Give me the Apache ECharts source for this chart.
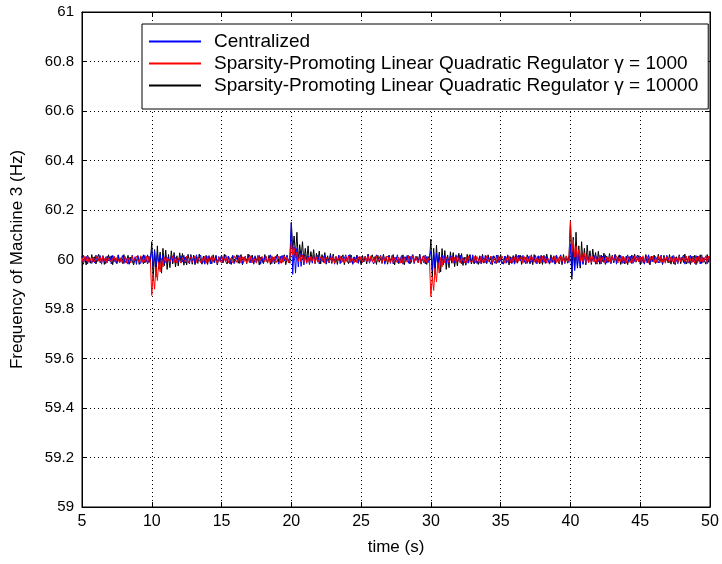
<!DOCTYPE html>
<html lang="en">
<head>
    <meta charset="UTF-8">
    <title>Frequency of Machine 3</title>
    <script src="https://cdn.jsdelivr.net/npm/echarts@6.0.0/dist/echarts.min.js"></script>
</head>
<body style="margin: 0;">
    <div id="chart" style="width: 722px; height: 564px;"></div>
    <script>
        // sampling grid of the traces (s)
        var tStart = 5, tStep = 0.1;
        var xTicks = [5, 10, 15, 20, 25, 30, 35, 40, 45, 50];
        var yTicks = [59, 59.2, 59.4, 59.6, 59.8, 60, 60.2, 60.4, 60.6, 60.8, 61];
        var names = ['Centralized',
            'Sparsity-Promoting Linear Quadratic Regulator \u03b3 = 1000',
            'Sparsity-Promoting Linear Quadratic Regulator \u03b3 = 10000'];

        // deviation from 60 Hz in mHz, one value every 0.1 s (one row = one second)
        var centralizedDev = [
            -11,17,-4,13,-18,9,15,-16,6,-13,
            18,-8,-14,16,-19,11,2,-17,14,-6,
            12,-18,17,-9,5,-15,19,-12,-3,16,
            -17,10,14,-19,8,-6,18,-14,11,-20,
            15,-5,-16,12,-18,17,-10,19,-13,7,
            42,-30,35,-25,28,-22,20,-20,18,-18,
            16,-13,9,-19,14,-7,18,-16,4,-11,
            -19,15,-10,17,-14,6,12,-18,16,-8,
            13,-17,19,-5,-12,18,-15,10,-19,14,
            -6,16,-18,11,8,-14,17,-20,12,-9,
            18,-11,-15,19,-7,13,-18,5,16,-17,
            -13,8,17,-16,12,-19,10,14,-9,-15,
            19,-14,6,-18,15,-10,-4,17,-19,11,
            -16,12,18,-8,-13,19,-17,9,-5,14,
            10,-19,13,-15,17,-6,-11,18,-14,16,
            148,-60,50,-55,45,-30,35,-28,20,-22,
            18,-16,14,-17,12,-15,16,-9,-13,17,
            -18,7,15,-12,19,-16,4,-14,18,-10,
            14,-19,11,-6,16,-17,13,-9,-15,19,
            -8,17,-13,18,-19,9,-4,15,-16,12,
            16,-12,-17,14,-9,19,-15,7,12,-18,
            -15,19,-6,-13,17,-11,18,-19,10,5,
            13,-16,15,-18,8,-4,19,-14,-10,16,
            -19,11,-7,17,-15,14,-12,18,-17,9,
            17,-14,19,-10,-6,16,-18,12,-13,15,
            35,-45,30,-32,25,-24,20,-20,18,-17,
            15,-16,12,-18,16,-9,13,-14,19,-11,
            -12,18,-17,8,14,-19,6,-15,17,-10,
            19,-13,10,-16,-7,15,-18,13,-11,17,
            -14,9,17,-19,12,-5,-16,18,-13,11,
            16,-18,-8,14,-15,19,-10,6,-17,13,
            -19,15,-12,18,-6,-14,17,-11,9,-16,
            12,-17,19,-9,-13,16,-18,14,-5,18,
            -10,14,-16,11,17,-19,8,-12,15,-18,
            18,-7,-15,19,-14,10,-17,13,16,-12,
            60,-65,40,-45,30,-35,25,-25,20,-20,
            17,-17,15,-13,18,-11,-14,16,-19,12,
            -9,16,-18,14,-12,19,-15,7,11,-17,
            15,-13,18,-19,9,-6,17,-16,12,-14,
            -18,19,-11,13,-17,15,-8,-12,18,-10,
            14,-16,10,-19,17,-13,19,-15,5,-9,
            -17,12,16,-14,-6,18,-19,11,-12,17,
            19,-10,-14,15,-18,9,13,-17,16,-8,
            -13,18,-19,12,-5,-15,17,-11,14,-16,
            16,-9,13,-18,19,-12,-7,15,-17,10,
            -12
        ];
        var splqr1000Dev = [
            8,-14,12,-6,15,-11,3,-13,10,-9,
            -12,15,-7,9,-15,13,-4,11,-14,6,
            14,-10,-5,13,-12,8,15,-13,7,-11,
            -9,12,-15,6,11,-14,13,-8,-3,14,
            10,-13,15,-12,5,-9,14,-15,12,-6,
            -145,-60,-120,-30,-85,-10,-50,5,-30,10,
            -13,9,14,-11,-6,15,-12,10,-14,7,
            13,-15,6,12,-10,14,-13,-4,11,-12,
            -7,14,-12,9,15,-13,5,-11,13,-15,
            12,-8,-14,15,-11,7,13,-15,9,-5,
            -15,11,14,-9,12,-14,6,10,-13,15,
            9,-12,-6,15,-14,11,-10,13,-15,8,
            -11,15,-13,7,10,-15,14,-8,-4,12,
            14,-9,13,-15,6,-12,15,-10,11,-13,
            -6,13,-15,11,-12,14,-7,9,-14,10,
            68,20,45,5,30,-8,22,-10,18,-12,
            15,-13,9,-14,12,-6,14,-15,10,-11,
            -14,11,-5,13,-15,9,12,-12,7,-10,
            13,-15,14,-8,-11,15,-13,6,-14,12,
            -9,14,-12,10,15,-14,8,-13,11,-6,
            12,-11,-15,13,-7,14,-12,15,-10,9,
            -13,15,-8,-10,14,-15,11,-6,13,-14,
            10,-12,15,-13,7,12,-14,9,-15,11,
            -15,8,13,-11,14,-9,-6,15,-12,13,
            11,-14,9,-15,12,-10,14,-13,6,-8,
            -150,-70,-125,-35,-90,-12,-55,8,-30,12,
            -14,11,13,-12,-5,14,-15,9,-11,15,
            12,-15,7,11,-13,10,-14,15,-8,-6,
            -10,13,-14,12,9,-15,14,-11,5,-13,
            15,-9,-12,14,-15,8,11,-13,12,-7,
            -13,14,10,-15,6,-11,15,-14,9,-12,
            11,-13,15,-7,-10,13,-15,12,-14,10,
            -8,15,-11,9,14,-15,7,-12,13,-14,
            14,-10,12,-15,5,13,-13,8,-11,15,
            -12,9,-15,14,-8,11,-14,15,-10,6,
            155,30,80,10,55,-5,40,-8,32,-10,
            26,-12,20,-13,16,-14,12,-10,14,-15,
            -11,13,-14,9,12,-15,10,-7,15,-13,
            13,-6,-12,15,-14,10,-9,14,-15,8,
            -15,12,11,-13,7,-14,15,-10,13,-9,
            10,-14,15,-11,-6,13,-15,12,-8,14,
            -12,7,-13,15,-10,14,-11,9,-15,11,
            15,-13,10,-8,13,-15,6,-12,14,-10,
            -14,11,-9,14,-15,12,8,-13,11,-15,
            9,-15,13,-10,15,-11,-7,14,-12,13,
            -10
        ];
        var splqr10000Dev = [
            14,-19,8,-22,17,3,-15,20,-9,11,
            -18,6,21,-13,-4,16,-20,9,-11,19,
            -7,15,-21,12,2,-17,18,-10,7,-16,
            20,-12,-3,17,-19,10,14,-22,5,-8,
            16,-20,11,-6,19,-14,4,-18,13,-9,
            72,-85,40,-70,55,-40,30,-55,45,-25,
            38,-40,20,-33,35,-18,28,-30,15,-26,
            27,-12,24,-23,10,-22,21,-8,20,-19,
            18,-21,9,-16,22,-5,-19,14,-12,17,
            -20,11,4,-17,19,-8,15,-22,10,-3,
            17,-14,21,-9,-18,12,6,-20,16,-11,
            -6,19,-15,8,20,-21,-2,13,-17,22,
            -12,5,18,-19,11,-7,16,-22,9,14,
            -16,20,-4,-13,17,-20,12,3,-18,10,
            21,-11,-17,15,-8,19,-21,7,13,-15,
            150,40,95,15,110,-5,60,10,72,-12,
            45,-8,55,-20,32,-5,40,-17,25,-10,
            34,-18,20,-9,28,-19,15,-12,24,-16,
            22,-14,9,-20,17,-6,-12,19,-21,8,
            15,-17,20,-3,-19,11,-9,18,-14,6,
            -21,16,-10,13,-18,22,-7,-15,19,-4,
            12,-20,17,-11,5,-16,21,-13,9,-19,
            18,-8,-14,20,-22,10,15,-17,4,-12,
            19,-21,11,-5,16,-18,8,20,-10,-15,
            13,-9,22,-19,6,-13,17,-20,12,-7,
            82,-70,45,-62,58,-35,30,-50,44,-22,
            36,-40,18,-33,31,-15,28,-29,12,-26,
            25,-10,24,-24,9,-23,21,-7,20,-18,
            9,-18,16,-4,-20,13,-11,21,-15,7,
            -17,19,-8,12,-21,15,3,-16,18,-12,
            20,-10,-19,14,-6,17,-22,11,-13,16,
            -9,21,-15,6,18,-20,10,-4,-17,19,
            13,-16,8,-21,20,-11,-7,15,-18,12,
            -20,17,-12,22,-5,-14,19,-9,11,-19,
            16,-6,-18,13,-21,20,-10,7,-15,18,
            155,-80,90,-40,110,-25,55,-35,72,-15,
            45,-22,58,-10,35,-20,42,-8,28,-19,
            33,-19,18,-8,26,-20,14,-12,24,-15,
            17,-13,21,-8,-16,19,-20,10,5,-18,
            14,-21,12,-6,18,-15,22,-11,-9,16,
            -19,8,15,-17,20,-12,4,-22,13,-7,
            18,-16,-5,21,-13,9,-20,17,-10,12,
            -14,20,-19,6,16,-21,11,-8,19,-17,
            10,-12,22,-18,-3,15,-20,13,-9,17,
            -21,14,-7,19,-16,8,12,-19,20,-11,
            15
        ];

        function toPoints(dev) {
            return dev.map(function (d, i) {
                return [+(tStart + i * tStep).toFixed(1), 60 + d / 1000];
            });
        }

        var font = 'Arial, "Liberation Sans", sans-serif';
        var dotted = { color: '#000', width: 1, type: [1, 3] };

        var chart = echarts.init(document.getElementById('chart'));

        var option = {
            animation: false,
            backgroundColor: '#fff',
            grid: { left: 82, right: 12, top: 12, bottom: 57, show: true, borderColor: '#000', borderWidth: 1 },
            legend: {
                data: names,
                orient: 'vertical',
                left: 142,
                top: 24,
                padding: [8, 10, 14, 6],
                itemGap: 3,
                itemWidth: 52,
                itemHeight: 14,
                itemStyle: { opacity: 0 },
                backgroundColor: '#fff',
                borderColor: '#000',
                borderWidth: 1,
                borderRadius: 0,
                textStyle: { fontFamily: font, fontSize: 19, color: '#000', padding: [0, 0, 0, 8] }
            },
            xAxis: [{
                type: 'value',
                min: xTicks[0],
                max: xTicks[xTicks.length - 1],
                interval: 5,
                name: 'time (s)',
                nameLocation: 'middle',
                nameGap: 32,
                nameTextStyle: { fontFamily: font, fontSize: 17, color: '#000' },
                axisLine: { lineStyle: { color: '#000' } },
                axisTick: { inside: true, length: 5, lineStyle: { color: '#000' } },
                axisLabel: { fontFamily: font, fontSize: 16, color: '#000', margin: 7 },
                splitLine: { show: true, lineStyle: dotted }
            }, {
                type: 'value',
                position: 'top',
                min: xTicks[0],
                max: xTicks[xTicks.length - 1],
                interval: 5,
                axisLine: { lineStyle: { color: '#000' } },
                axisTick: { inside: true, length: 5, lineStyle: { color: '#000' } },
                axisLabel: { show: false },
                splitLine: { show: false }
            }],
            yAxis: [{
                type: 'value',
                min: yTicks[0],
                max: yTicks[yTicks.length - 1],
                interval: 0.2,
                name: 'Frequency of Machine 3 (Hz)',
                nameLocation: 'middle',
                nameGap: 56,
                nameTextStyle: { fontFamily: font, fontSize: 17, color: '#000' },
                axisLine: { show: true, lineStyle: { color: '#000' } },
                axisTick: { show: true, inside: true, length: 5, lineStyle: { color: '#000' } },
                axisLabel: {
                    fontFamily: font, fontSize: 15, color: '#000', margin: 8,
                    formatter: function (v) { return String(Number(v.toFixed(1))); }
                },
                splitLine: { show: true, lineStyle: dotted }
            }, {
                type: 'value',
                position: 'right',
                min: yTicks[0],
                max: yTicks[yTicks.length - 1],
                interval: 0.2,
                axisLine: { show: true, lineStyle: { color: '#000' } },
                axisTick: { show: true, inside: true, length: 5, lineStyle: { color: '#000' } },
                axisLabel: { show: false },
                splitLine: { show: false }
            }],
            series: [{
                name: names[2],
                type: 'line',
                symbol: 'none',
                z: 2,
                color: '#000000',
                lineStyle: { width: 1, color: '#000000' },
                data: toPoints(splqr10000Dev)
            }, {
                name: names[0],
                type: 'line',
                symbol: 'none',
                z: 3,
                color: '#0000ff',
                lineStyle: { width: 1, color: '#0000ff' },
                data: toPoints(centralizedDev)
            }, {
                name: names[1],
                type: 'line',
                symbol: 'none',
                z: 4,
                color: '#ff0000',
                lineStyle: { width: 1, color: '#ff0000' },
                data: toPoints(splqr1000Dev)
            }]
        };

        chart.setOption(option);
    </script>
</body>
</html>
